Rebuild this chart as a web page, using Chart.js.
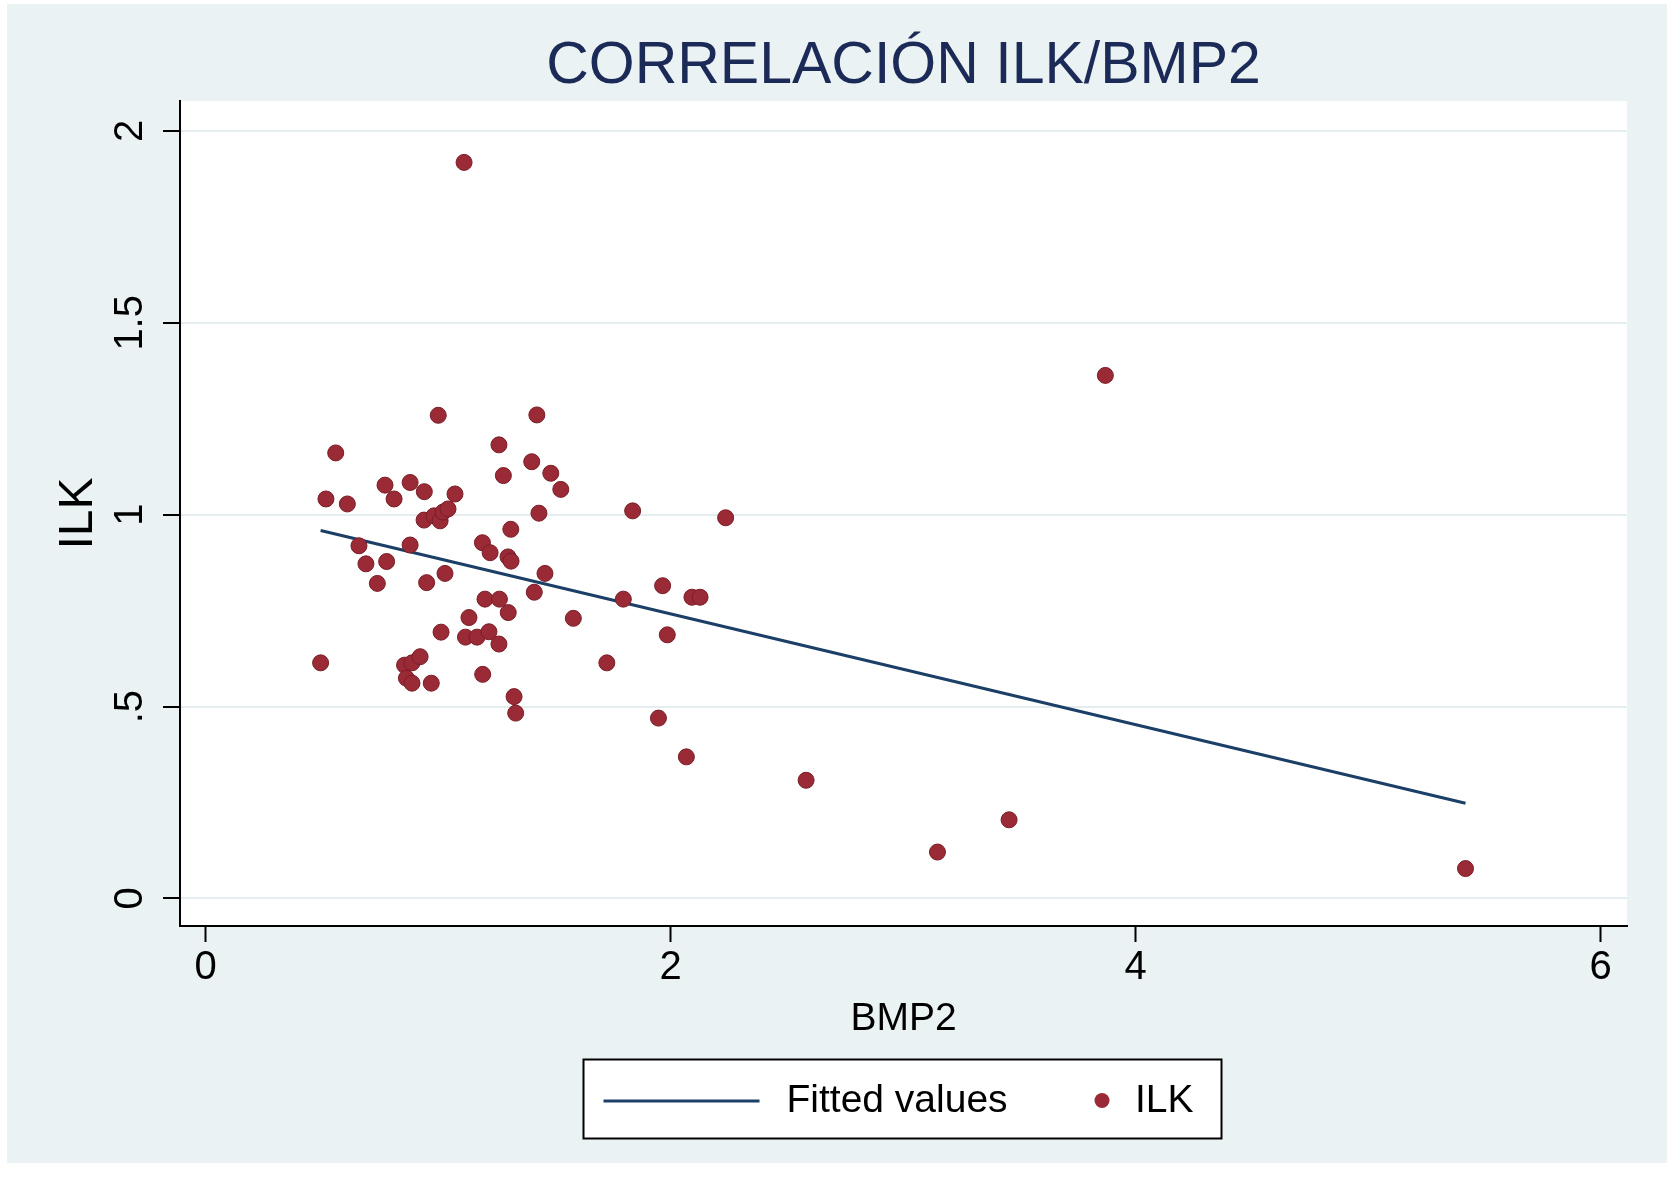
<!DOCTYPE html>
<html><head><meta charset="utf-8">
<script src="https://cdn.jsdelivr.net/npm/chart.js@4.4.1/dist/chart.umd.min.js"></script>
<style>html,body{margin:0;padding:0;background:#fff;}canvas{display:block;}</style>
</head><body>
<canvas id="c" width="1675" height="1181" style="width:1675px;height:1181px"></canvas>
<script>
const FONT = "'Liberation Sans', Arial, Helvetica, sans-serif";
const chartTitle = 'CORRELACIÓN ILK/BMP2';
const xAxisTitle = 'BMP2';
const yAxisTitle = 'ILK';
const seriesLabels = ['Fitted values', 'ILK'];

const bmp2 = [
  1.001,1.425,0.560,1.262,1.403,1.485,1.281,0.518,0.610,0.772,0.811,0.880,0.941,1.073,
  0.940,0.983,1.009,1.022,1.043,
  1.434,1.313,0.660,0.880,1.191,1.224,
  1.301,1.314,
  0.690,0.779,0.739,0.951,1.030,1.460,1.414,1.202,1.264,1.302,1.133,1.013,
  1.118,1.168,1.219,1.262,
  0.495,
  0.856,0.888,0.923,0.864,0.888,0.971,
  1.192,1.327,1.334,
  1.528,1.837,2.237,1.966,1.797,
  2.092,2.127,
  1.582,1.986,1.726,1.948,
  1.112,3.870,2.068,2.583,3.148,3.456,5.419
];
const ilk = [
  1.259,1.260,1.161,1.182,1.138,1.108,1.102,1.041,1.028,1.077,1.041,1.084,1.060,1.054,
  0.986,0.997,0.984,1.007,1.015,
  1.004,0.962,0.919,0.921,0.927,0.901,
  0.890,0.879,
  0.872,0.878,0.821,0.823,0.847,0.847,0.798,0.780,0.780,0.745,0.732,0.694,
  0.681,0.681,0.695,0.663,
  0.614,
  0.608,0.614,0.630,0.574,0.561,0.561,
  0.584,0.526,0.483,
  1.066,1.010,0.992,0.815,0.780,
  0.785,0.785,
  0.730,0.687,0.614,0.470,
  1.918,1.363,0.369,0.308,0.121,0.205,0.078
];
const fitBmp2 = [0.495, 5.419];
const fitIlk = [0.959, 0.248];

const xTickValues = [0, 2, 4, 6];
const xTickLabels = ['0', '2', '4', '6'];
const yTickValues = [0, 0.5, 1, 1.5, 2];
const yTickLabels = ['0', '.5', '1', '1.5', '2'];

const bgPlugin = {
  id: 'bg',
  beforeDraw(chart) {
    const {ctx, chartArea: a} = chart;
    ctx.save();
    ctx.fillStyle = '#ffffff';
    ctx.fillRect(0, 0, chart.width, chart.height);
    ctx.fillStyle = '#EAF2F3';
    ctx.fillRect(7, 4, 1660, 1159);
    ctx.fillStyle = '#ffffff';
    ctx.fillRect(a.left, a.top, a.right - a.left, a.bottom - a.top);
    ctx.restore();
  }
};

const legendPlugin = {
  id: 'stataLegend',
  afterDraw(chart) {
    const {ctx, chartArea: a} = chart;
    const xs = chart.scales.x;
    const ds = chart.data.datasets;
    const cx = (a.left + a.right) / 2;
    const w = 638, h = 79;
    const left = cx - 320;
    const top = xs.bottom + 9.5;
    ctx.save();
    ctx.fillStyle = '#ffffff';
    ctx.fillRect(left, top, w, h);
    ctx.strokeStyle = '#000000';
    ctx.lineWidth = 2;
    ctx.strokeRect(left, top, w, h);
    ctx.strokeStyle = ds[0].borderColor;
    ctx.lineWidth = ds[0].borderWidth;
    ctx.beginPath();
    ctx.moveTo(left + 20, top + 41.5);
    ctx.lineTo(left + 176, top + 41.5);
    ctx.stroke();
    ctx.fillStyle = '#000000';
    ctx.font = '39px ' + FONT;
    ctx.textBaseline = 'middle';
    ctx.textAlign = 'left';
    ctx.fillText(ds[0].label, left + 203, top + 42);
    ctx.beginPath();
    ctx.arc(left + 518.5, top + 41, 7.5, 0, Math.PI * 2);
    ctx.fillStyle = ds[1].backgroundColor;
    ctx.fill();
    ctx.fillStyle = '#000000';
    ctx.fillText(ds[1].label, left + 551.5, top + 42);
    ctx.restore();
  }
};

new Chart(document.getElementById('c'), {
  type: 'scatter',
  data: {
    datasets: [
      {
        type: 'line',
        label: seriesLabels[0],
        data: fitBmp2.map((x, i) => ({x: x, y: fitIlk[i]})),
        borderColor: '#1B3F66',
        borderWidth: 3,
        pointRadius: 0,
        fill: false,
        tension: 0,
        order: 1
      },
      {
        type: 'scatter',
        label: seriesLabels[1],
        data: bmp2.map((x, i) => ({x: x, y: ilk[i]})),
        backgroundColor: '#9A2A36',
        borderColor: '#7A1E28',
        borderWidth: 1,
        pointRadius: 8,
        order: 0
      }
    ]
  },
  options: {
    responsive: false,
    animation: false,
    devicePixelRatio: 1,
    layout: {padding: {top: 4, left: 10, right: 48, bottom: 131}},
    plugins: {
      legend: {display: false},
      tooltip: {enabled: false},
      title: {
        display: true,
        text: chartTitle,
        fullSize: false,
        color: '#1B2A57',
        font: {family: FONT, size: 59, weight: 'normal', lineHeight: 1},
        padding: {top: 33.4, bottom: 4.6}
      }
    },
    scales: {
      x: {
        type: 'linear',
        min: -0.1097,
        max: 6.1135,
        afterBuildTicks(s) { s.ticks = xTickValues.map(v => ({value: v})); },
        afterFit(s) { s.height = 124; },
        ticks: {
          callback: v => { const i = xTickValues.indexOf(v); return i >= 0 ? xTickLabels[i] : ''; },
          font: {family: FONT, size: 40, lineHeight: 1},
          color: '#000000',
          padding: 5.5,
          minRotation: 0,
          maxRotation: 0,
          autoSkip: false
        },
        grid: {display: true, drawOnChartArea: false, drawTicks: true, tickLength: 16, tickColor: '#000000', tickWidth: 2},
        border: {display: true, color: '#000000', width: 2},
        title: {display: true, text: xAxisTitle, color: '#000000', font: {family: FONT, size: 39, lineHeight: 1}, padding: {top: 0, bottom: 11}}
      },
      y: {
        type: 'linear',
        min: -0.0717,
        max: 2.078,
        afterBuildTicks(s) { s.ticks = yTickValues.map(v => ({value: v})); },
        afterFit(s) { s.width = 170; },
        ticks: {
          callback: v => { const i = yTickValues.indexOf(v); return i >= 0 ? yTickLabels[i] : ''; },
          font: {family: FONT, size: 40, lineHeight: 1},
          color: '#000000',
          padding: 4,
          minRotation: 90,
          maxRotation: 90,
          crossAlign: 'center',
          autoSkip: false
        },
        grid: {color: '#E4EEF0', lineWidth: 2, drawTicks: true, tickLength: 17, tickColor: '#000000', tickWidth: 2},
        border: {display: true, color: '#000000', width: 2},
        title: {display: true, text: yAxisTitle, color: '#000000', font: {family: FONT, size: 48, lineHeight: 1}, padding: {top: 44.3, bottom: 0}}
      }
    }
  },
  plugins: [bgPlugin, legendPlugin]
});
</script>
</body></html>
